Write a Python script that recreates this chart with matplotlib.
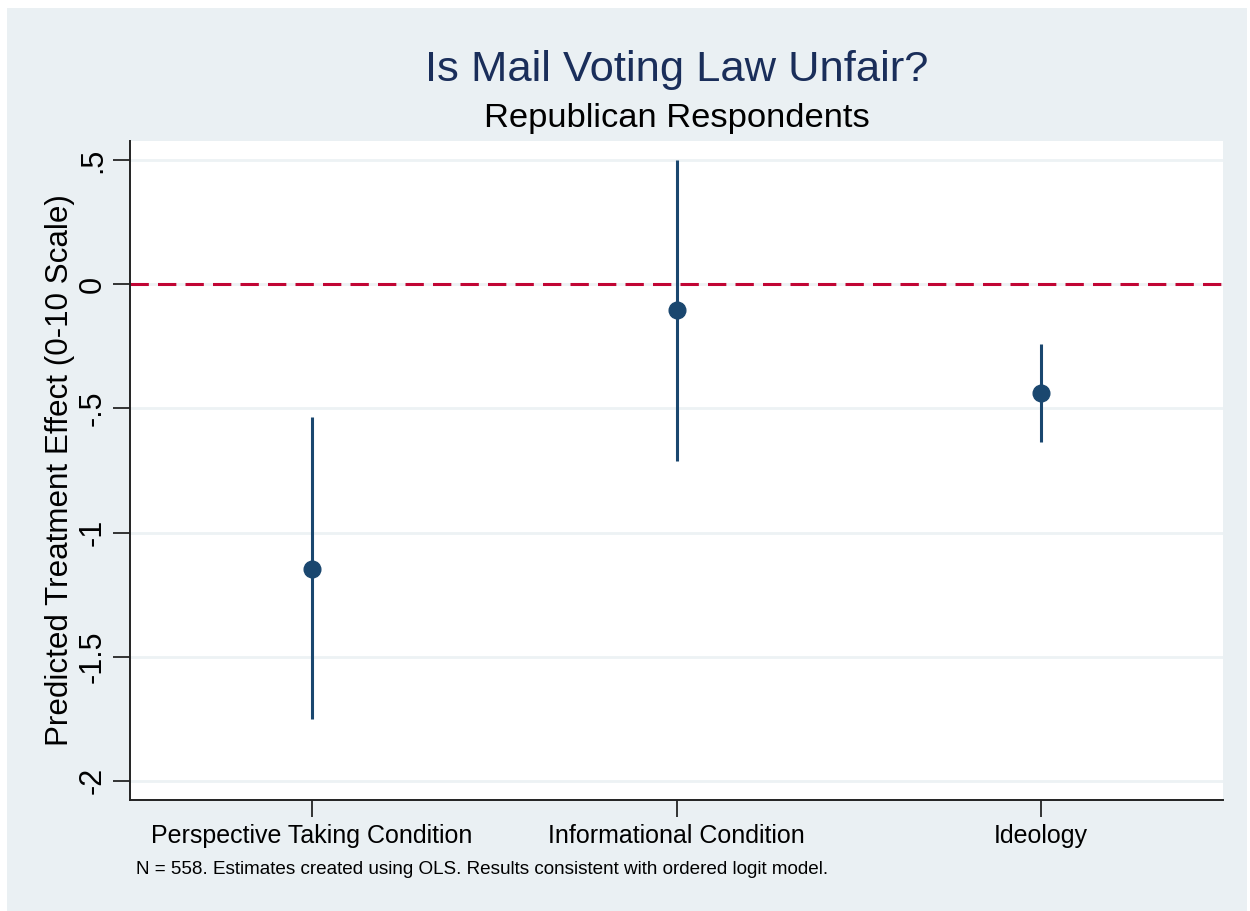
import numpy as np
import matplotlib.pyplot as plt
from matplotlib.patches import Rectangle

# data
labels = ["Perspective Taking Condition", "Informational Condition", "Ideology"]
estimates = [-1.147, -0.105, -0.439]
ci_low = [-1.751, -0.713, -0.636]
ci_high = [-0.535, 0.500, -0.242]
yticks = [0.5, 0, -0.5, -1, -1.5, -2]
ytick_labels = [".5", "0", "-.5", "-1", "-1.5", "-2"]

navy = "#1a476f"
bg = "#eaf0f3"

plt.rcParams['font.family'] = ['Liberation Sans', 'DejaVu Sans']

fig = plt.figure(figsize=(12.5, 9.11), dpi=100, facecolor="white")
fig.patches.append(Rectangle((7 / 1250, 0), 1240 / 1250, 903 / 911,
                             transform=fig.transFigure, facecolor=bg,
                             edgecolor="none", zorder=-10))

ax = fig.add_axes([130 / 1250, 111 / 911, 1093 / 1250, 659 / 911])
ax.set_facecolor("white")

x = np.arange(1, len(labels) + 1)
est = np.array(estimates)
lo = np.array(ci_low)
hi = np.array(ci_high)

ax.vlines(x, lo, hi, color=navy, lw=2.2, zorder=3)
ax.plot(x, est, 'o', color=navy, ms=12, zorder=4)
ax.axhline(0, color="#c10534", lw=2.2, dashes=(6, 3), zorder=2)

ax.set_xlim(0.5, 3.5)
ax.set_ylim(-2.077, 0.577)
ax.set_yticks(yticks)
ax.set_yticklabels(ytick_labels, rotation=90, va="center", fontsize=22)
ax.set_xticks(x)
ax.set_xticklabels(labels, fontsize=18)
ax.tick_params(axis="both", length=12, width=1.4, color="#333333")
ax.tick_params(axis="y", pad=4)
ax.tick_params(axis="x", pad=5)

ax.grid(axis="y", color="#edf2f4", lw=2)
ax.set_axisbelow(True)
for s in ["top", "right"]:
    ax.spines[s].set_visible(False)
for s in ["left", "bottom"]:
    ax.spines[s].set_linewidth(1.4)
    ax.spines[s].set_color("#222222")

ax.set_ylabel("Predicted Treatment Effect (0-10 Scale)", fontsize=22.6)
ax.yaxis.set_label_coords(-0.05, 0.5)

fig.text(677 / 1250, 1 - 70 / 911, "Is Mail Voting Law Unfair?", ha="center",
         va="center", fontsize=31.3, color="#1a2e5a")
fig.text(677 / 1250, 1 - 119 / 911, "Republican Respondents", ha="center",
         va="center", fontsize=24.8, color="black")
fig.text(136 / 1250, 1 - 870 / 911,
         "N = 558. Estimates created using OLS. Results consistent with ordered logit model.",
         ha="left", va="center", fontsize=13.6)

fig.savefig("out.png", dpi=100, facecolor=fig.get_facecolor())
